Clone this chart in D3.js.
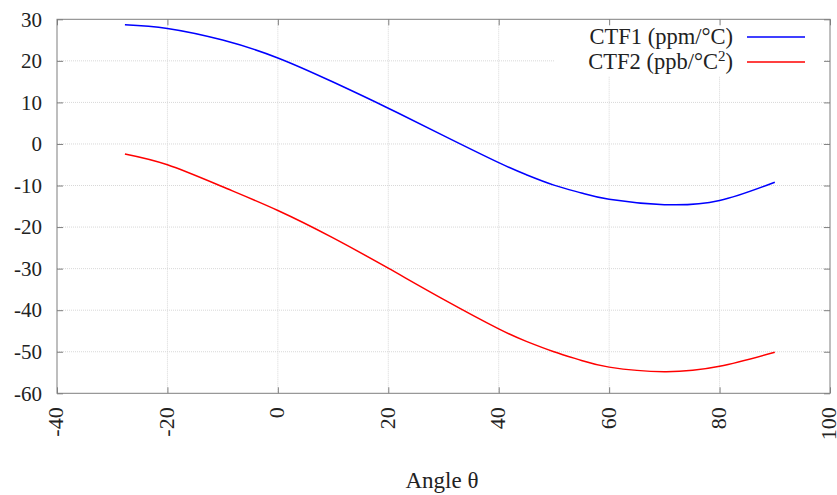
<!DOCTYPE html>
<html>
<head>
<meta charset="utf-8">
<script src="https://cdn.jsdelivr.net/npm/d3@7"></script>
<style>
  body { margin: 0; background: #fff; }
</style>
</head>
<body>
<svg id="chart" width="837" height="495"></svg>
<script>
const angles = [-27.7, -20, -10, 0, 10, 20, 30, 40, 45, 50, 55, 60, 70, 80, 90];
const ctf1 = [28.7, 27.8, 25.0, 20.7, 14.9, 8.6, 2.0, -4.5, -7.4, -9.9, -11.8, -13.3, -14.6, -13.6, -9.2];
const ctf2 = [-2.4, -5.0, -10.3, -16.0, -22.6, -29.9, -37.4, -44.5, -47.5, -50.0, -52.1, -53.7, -54.8, -53.5, -50.1];
const xTicks = [-40, -20, 0, 20, 40, 60, 80, 100];
const yTicks = [-60, -50, -40, -30, -20, -10, 0, 10, 20, 30];
const seriesNames = ["CTF1 (ppm/°C)", "CTF2 (ppb/°C"];
const seriesColors = ["#0000ff", "#ff0000"];

const FONT = '"Liberation Serif", "Times New Roman", "DejaVu Serif", serif';
const svg = d3.select("#chart").style("font-family", FONT);
const L = 57, R = 830, T = 19.3, B = 393.3;
const x = d3.scaleLinear().domain([-40, 100]).range([L, R]);
const y = d3.scaleLinear().domain([-60, 30]).range([B, T]);

// grid
const grid = svg.append("g");
grid.selectAll(".gx").data(xTicks.slice(1, -1)).enter().append("line")
  .attr("x1", d => x(d)).attr("x2", d => x(d)).attr("y1", T).attr("y2", B)
  .attr("stroke", "#d8d8d8").attr("stroke-dasharray", "1,1").attr("stroke-width", 1);
grid.selectAll(".gy").data(yTicks.slice(1, -1)).enter().append("line")
  .attr("x1", L).attr("x2", R).attr("y1", d => y(d)).attr("y2", d => y(d))
  .attr("stroke", "#d8d8d8").attr("stroke-dasharray", "1,1").attr("stroke-width", 1);

// legend background box (covers grid)
svg.append("rect").attr("x", 555).attr("y", T + 1).attr("width", 270).attr("height", 56).attr("fill", "#fff");

// axes with inward ticks
const axisColor = "#7f7f7f";
const fmt = d => String(d);
const gl = svg.append("g").attr("transform", `translate(${L},0)`)
  .call(d3.axisLeft(y).tickValues(yTicks).tickSize(-6).tickPadding(15).tickFormat(fmt));
const gr = svg.append("g").attr("transform", `translate(${R},0)`)
  .call(d3.axisRight(y).tickValues(yTicks).tickSize(-6).tickFormat(""));
const gb = svg.append("g").attr("transform", `translate(0,${B})`)
  .call(d3.axisBottom(x).tickValues(xTicks).tickSize(-6).tickFormat(fmt));
const gt = svg.append("g").attr("transform", `translate(0,${T})`)
  .call(d3.axisTop(x).tickValues(xTicks).tickSize(-6).tickFormat(""));
[gl, gr, gb, gt].forEach(g => {
  g.attr("font-family", null);
  g.select(".domain").remove();
  g.selectAll("line").attr("stroke", axisColor);
  g.selectAll("text").style("font-family", FONT).attr("fill", "#222");
});
gl.selectAll("text").attr("font-size", 21);
gb.selectAll("text")
  .attr("font-size", 22)
  .attr("transform", "rotate(-90)")
  .attr("text-anchor", "end")
  .attr("x", -14).attr("y", 0).attr("dy", "0.27em");

svg.append("rect").attr("x", L).attr("y", T).attr("width", R - L).attr("height", B - T)
  .attr("fill", "none").attr("stroke", axisColor).attr("stroke-width", 1);

// lines
const line = d3.line().x(d => x(d[0])).y(d => y(d[1])).curve(d3.curveNatural);
[ctf1, ctf2].forEach((vals, i) => {
  svg.append("path").datum(angles.map((a, j) => [a, vals[j]]))
    .attr("d", line).attr("fill", "none").attr("stroke", seriesColors[i]).attr("stroke-width", 1.5);
});

// legend
const lg = svg.append("g");
[0, 1].forEach(i => {
  const ly = 37 + i * 25;
  const t = lg.append("text").attr("x", 733).attr("y", ly).attr("dy", "0.33em")
    .attr("text-anchor", "end").attr("font-size", 22.5).attr("fill", "#222").style("font-family", FONT);
  if (i === 0) {
    t.text(seriesNames[0]);
  } else {
    t.append("tspan").text(seriesNames[1]);
    t.append("tspan").attr("baseline-shift", "super").attr("font-size", 15).text("2");
    t.append("tspan").text(")");
  }
  lg.append("line").attr("x1", 747).attr("x2", 805).attr("y1", ly).attr("y2", ly)
    .attr("stroke", seriesColors[i]).attr("stroke-width", 1.5);
});

// axis title
svg.append("text").attr("x", 442).attr("y", 488).attr("text-anchor", "middle")
  .attr("font-size", 23).attr("fill", "#222").style("font-family", FONT).text("Angle θ");
</script>
</body>
</html>
